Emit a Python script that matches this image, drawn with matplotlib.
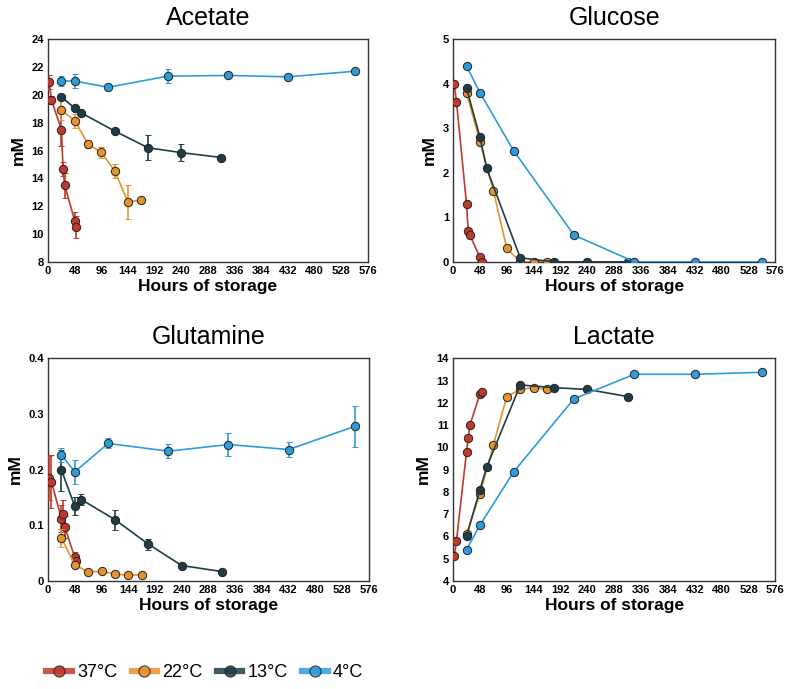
import matplotlib
matplotlib.use("Agg")
import matplotlib.pyplot as plt
from matplotlib.lines import Line2D

plt.rcParams['font.family'] = ['Liberation Sans', 'DejaVu Sans']

# time points (hours) per storage temperature
t_37 = [2, 6, 24, 27, 30, 48, 51]
t_22 = [24, 48, 72, 96, 120, 144, 168]
t_13 = [24, 48, 60, 120, 180, 240, 312]
t_4 = [24, 48, 108, 216, 324, 432, 552]

labels = ["37°C", "22°C", "13°C", "4°C"]
colors = ["#C0392B", "#E8922C", "#1E3D47", "#2D9CDB"]

# Acetate
ace_37 = [20.9, 19.65, 17.5, 14.65, 13.5, 10.95, 10.5]
ace_37_err = [0.5, 0.3, 1.2, 0.5, 0.9, 0.6, 0.8]
ace_22 = [18.9, 18.15, 16.47, 15.87, 14.53, 12.3, 12.45]
ace_22_err = [0.7, 0.5, 0.3, 0.4, 0.5, 1.2, 0]
ace_13 = [19.85, 19.05, 18.7, 17.4, 16.2, 15.85, 15.5]
ace_13_err = [0, 0.2, 0, 0, 0.9, 0.6, 0]
ace_4 = [21.0, 21.0, 20.55, 21.35, 21.4, 21.3, 21.7]
ace_4_err = [0.35, 0.5, 0, 0.5, 0, 0, 0]

# Glucose
glc_37 = [4.0, 3.6, 1.3, 0.7, 0.6, 0.1, 0.0]
glc_22 = [3.8, 2.7, 1.6, 0.3, 0.0, 0.0, 0.0]
glc_13 = [3.9, 2.8, 2.1, 0.09, 0.0, 0.0, 0.0]
glc_4 = [4.4, 3.8, 2.5, 0.6, 0.0, 0.0, 0.0]

# Glutamine
gln_37 = [0.185, 0.178, 0.112, 0.121, 0.097, 0.042, 0.035]
gln_37_err = [0.04, 0.048, 0.025, 0.025, 0.02, 0.01, 0.005]
gln_22 = [0.077, 0.029, 0.016, 0.017, 0.0125, 0.0096, 0.0113]
gln_22_err = [0.016, 0.004, 0, 0, 0, 0, 0]
gln_13 = [0.199, 0.134, 0.146, 0.110, 0.066, 0.0275, 0.0167]
gln_13_err = [0.037, 0.016, 0.01, 0.018, 0.01, 0, 0]
gln_4 = [0.226, 0.196, 0.247, 0.233, 0.245, 0.236, 0.278]
gln_4_err = [0.013, 0.022, 0.009, 0.013, 0.021, 0.014, 0.037]

# Lactate
lac_37 = [5.1, 5.8, 9.8, 10.4, 11.0, 12.39, 12.49]
lac_22 = [6.12, 7.9, 10.1, 12.28, 12.6, 12.68, 12.6]
lac_13 = [6.0, 8.1, 9.1, 12.8, 12.68, 12.6, 12.28]
lac_4 = [5.4, 6.5, 8.89, 12.18, 13.28, 13.28, 13.37]

times = [t_37, t_22, t_13, t_4]
xticks = list(range(0, 577, 48))

fig = plt.figure(figsize=(7.88, 6.89), dpi=100)


def panel(rect, title, series, errs, ylim, yticks):
    ax = fig.add_axes(rect)
    for i in range(4):
        e = errs[i] if errs is not None else None
        ax.errorbar(times[i], series[i], yerr=e, color=colors[i], lw=1.2,
                    marker='o', ms=6, mfc=colors[i], mec='#222222', mew=0.7,
                    elinewidth=1.2, capsize=2, capthick=1.0, zorder=3 + i)
    ax.set_xlim(0, 576)
    ax.set_ylim(*ylim)
    ax.set_xticks(xticks)
    ax.set_yticks(yticks)
    ax.set_yticklabels([f"{v:g}" for v in yticks])
    ax.tick_params(length=0, labelsize=8, pad=3)
    for lab in ax.get_xticklabels() + ax.get_yticklabels():
        lab.set_fontweight('bold')
    for s in ax.spines.values():
        s.set_color('#333333')
        s.set_linewidth(1.0)
    ax.set_title(title, fontsize=18, pad=10)
    ax.set_xlabel("Hours of storage", fontsize=12.5, fontweight='bold', labelpad=2)
    ax.set_ylabel("mM", fontsize=12.5, fontweight='bold', labelpad=4)
    return ax


panel([0.061, 0.620, 0.406, 0.323], "Acetate",
      [ace_37, ace_22, ace_13, ace_4],
      [ace_37_err, ace_22_err, ace_13_err, ace_4_err],
      (8, 24), list(range(8, 25, 2)))
panel([0.575, 0.620, 0.409, 0.323], "Glucose",
      [glc_37, glc_22, glc_13, glc_4], None,
      (0, 5), list(range(0, 6)))
panel([0.061, 0.157, 0.407, 0.323], "Glutamine",
      [gln_37, gln_22, gln_13, gln_4],
      [gln_37_err, gln_22_err, gln_13_err, gln_4_err],
      (0, 0.4), [0, 0.1, 0.2, 0.3, 0.4])
panel([0.575, 0.157, 0.409, 0.323], "Lactate",
      [lac_37, lac_22, lac_13, lac_4], None,
      (4, 14), list(range(4, 15)))

handles = [Line2D([0], [0], color=c, lw=4.5, alpha=0.85, marker='o', ms=8,
                  mfc=c, mec='#222222', mew=0.8) for c in colors]
fig.legend(handles, labels, loc='center', bbox_to_anchor=(0.26, 0.024),
           ncol=4, frameon=False, fontsize=13, handlelength=1.4,
           handletextpad=0.3, columnspacing=0.8)

fig.savefig("out.png", dpi=100)
